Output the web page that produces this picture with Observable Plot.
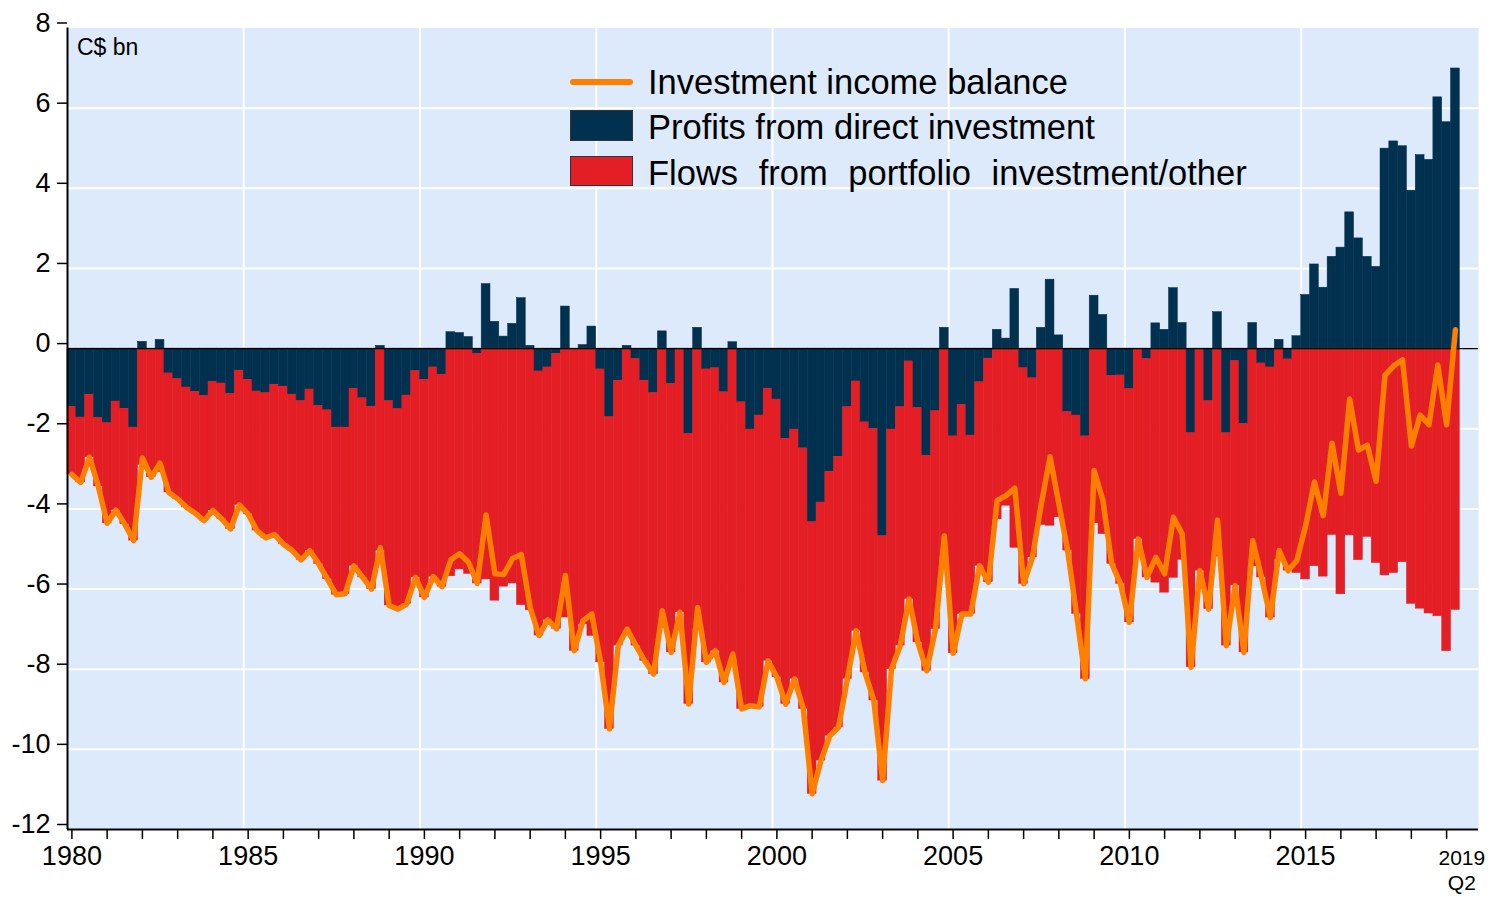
<!DOCTYPE html>
<html>
<head>
<meta charset="utf-8">
<script src="https://cdn.jsdelivr.net/npm/d3@7"></script>
<script src="https://cdn.jsdelivr.net/npm/@observablehq/plot@0.6"></script>
<style>
  html, body { margin: 0; padding: 0; background: #ffffff; }
  body { font-family: "Liberation Sans", Arial, sans-serif; }
  #wrap { position: relative; width: 1506px; height: 897px; overflow: hidden; }
  .abs { position: absolute; }
  .lt { position: absolute; font-size: 34.5px; line-height: 34px; color: #000; white-space: nowrap; }
</style>
</head>
<body>
<div id="wrap"></div>
<script>
// ---------------- DATA (quarterly, 1980 Q1 .. 2019 Q2), C$ bn ----------------
const firstYear = 1980;
const lastYear = 2019;
const nQuarters = 158;

// Profits from direct investment
const direct = [
  -1.45,-1.72,-1.15,-1.73,  -1.86,-1.32,-1.50,-1.97,   0.17,-0.03, 0.22,-0.62,  -0.76,-0.97,-1.08,-1.18,
  -0.83,-0.87,-1.13,-0.55,  -0.78,-1.07,-1.11,-0.90,  -0.95,-1.15,-1.31,-1.02,  -1.43,-1.54,-1.97,-1.97,
  -1.00,-1.24,-1.45, 0.07,  -1.31,-1.51,-1.17,-0.56,  -0.78,-0.47,-0.65, 0.41,   0.39, 0.29,-0.13, 1.61,
   0.67, 0.30, 0.62, 1.26,   0.07,-0.57,-0.47,-0.13,   1.05,-0.03, 0.09, 0.55,  -0.52,-1.71,-0.80, 0.07,
  -0.26,-0.80,-1.11, 0.43,  -0.88,-0.02,-2.13, 0.52,  -0.52,-0.49,-1.09, 0.16,  -1.34,-2.02,-1.67,-1.00,
  -1.27,-2.25,-2.02,-2.49,  -4.33,-3.84,-3.07,-2.70,  -1.46,-0.82,-1.84,-2.00,  -4.68,-2.02,-1.46,-0.32,
  -1.48,-2.67,-1.56, 0.52,  -2.19,-1.40,-2.17,-0.84,  -0.25, 0.47, 0.25, 1.49,  -0.49,-0.74, 0.52, 1.72,
   0.33,-1.58,-1.67,-2.19,   1.32, 0.84,-0.68,-0.67,  -1.01,-0.02,-0.26, 0.63,   0.47, 1.51, 0.64,-2.11,
  -0.03,-1.31, 0.91,-2.11,  -0.31,-1.88, 0.64,-0.37,  -0.47, 0.22,-0.27, 0.31,   1.34, 2.10, 1.52, 2.29,
   2.52, 3.40, 2.75, 2.29,   2.04, 4.99, 5.17, 5.05,   3.94, 4.83, 4.71, 6.27,   5.65, 6.99
];

// Flows from portfolio investment/other
const portfolio = [
  -1.69,-1.62,-1.56,-1.71,  -2.50,-2.71,-2.88,-2.82,  -2.90,-3.18,-3.08,-2.97,  -2.99,-2.99,-3.03,-3.11,
  -3.21,-3.38,-3.37,-3.35,  -3.35,-3.47,-3.61,-3.74,  -3.93,-3.89,-3.96,-4.02,  -3.94,-4.21,-4.17,-4.15,
  -4.42,-4.47,-4.55,-5.04,  -5.10,-4.99,-5.20,-5.15,  -5.43,-5.22,-5.29,-5.68,  -5.51,-5.62,-5.73,-5.76,
  -6.29,-5.94,-5.86,-6.40,  -6.53,-6.59,-6.30,-6.86,  -6.71,-7.51,-6.88,-7.17,  -7.31,-7.78,-6.61,-7.07,
  -7.15,-6.99,-7.01,-6.97,  -6.70,-6.56,-6.74,-6.98,  -7.31,-7.05,-7.24,-7.78,  -7.65,-6.89,-7.27,-6.79,
  -6.93,-6.62,-6.22,-6.50,  -6.78,-6.44,-6.59,-6.75,  -6.78,-6.22,-6.24,-6.78,  -6.10,-5.98,-5.95,-5.93,
  -5.85,-5.37,-5.44,-5.19,  -5.41,-5.22,-4.45,-4.58,  -5.58,-4.26,-3.92,-4.97,  -5.38,-4.47,-4.40,-4.42,
  -4.21,-3.46,-4.95,-6.05,  -4.36,-4.63,-4.69,-5.20,  -5.82,-4.73,-5.45,-5.84,  -6.09,-5.72,-5.27,-5.84,
  -5.51,-5.19,-5.19,-5.30,  -5.60,-5.70,-5.43,-5.34,  -6.24,-5.26,-5.27,-5.60,  -5.76,-5.43,-5.69,-4.65,
  -6.13,-4.66,-5.28,-4.70,  -5.35,-5.66,-5.60,-5.33,  -6.37,-6.49,-6.61,-6.68,  -7.55,-6.52
];

// Investment income balance
const balance = [
  -3.14,-3.34,-2.71,-3.44,  -4.36,-4.03,-4.38,-4.79,  -2.73,-3.21,-2.86,-3.59,  -3.75,-3.96,-4.11,-4.29,
  -4.04,-4.25,-4.50,-3.90,  -4.13,-4.54,-4.72,-4.64,  -4.88,-5.04,-5.27,-5.04,  -5.37,-5.75,-6.14,-6.12,
  -5.42,-5.71,-6.00,-4.97,  -6.41,-6.50,-6.37,-5.71,  -6.21,-5.69,-5.94,-5.27,  -5.12,-5.33,-5.86,-4.15,
  -5.62,-5.64,-5.24,-5.14,  -6.46,-7.16,-6.77,-6.99,  -5.66,-7.54,-6.79,-6.62,  -7.83,-9.49,-7.41,-7.00,
  -7.41,-7.79,-8.12,-6.54,  -7.58,-6.58,-8.87,-6.46,  -7.83,-7.54,-8.33,-7.62,  -8.99,-8.91,-8.94,-7.79,
  -8.20,-8.87,-8.24,-8.99, -11.11,-10.28,-9.66,-9.45, -8.24,-7.04,-8.08,-8.78, -10.78,-8.00,-7.41,-6.25,
  -7.33,-8.04,-7.00,-4.67,  -7.60,-6.62,-6.62,-5.42,  -5.83,-3.79,-3.67,-3.48,  -5.87,-5.21,-3.88,-2.70,
  -3.88,-5.04,-6.62,-8.24,  -3.04,-3.79,-5.37,-5.87,  -6.83,-4.75,-5.71,-5.21,  -5.62,-4.21,-4.63,-7.95,
  -5.54,-6.50,-4.28,-7.41,  -5.91,-7.58,-4.79,-5.71,  -6.71,-5.04,-5.54,-5.29,  -4.42,-3.33,-4.17,-2.36,
  -3.61,-1.26,-2.53,-2.41,  -3.31,-0.67,-0.43,-0.28,  -2.43,-1.66,-1.90,-0.41,  -1.90, 0.47
];

const seriesNames = ["Profits from direct investment", "Flows from portfolio investment/other"];
const lineName = "Investment income balance";
const yTicks = [-12, -10, -8, -6, -4, -2, 0, 2, 4, 6, 8];
const yGrid = [-10, -8, -6, -4, -2, 2, 4, 6];
const labelYears = [1980, 1985, 1990, 1995, 2000, 2005, 2010, 2015];
const gridYears = [1985, 1990, 1995, 2000, 2005, 2010, 2015];
const lastLabel = "2019\nQ2";

// ---------------- STYLE ----------------
const navy = "#02314F";
const red = "#E31E24";
const orange = "#FF7F00";
const bg = "#DDEAFB";

// ---------------- BUILD ROWS ----------------
const qStart = i => firstYear + i / 4;
const barRows = [];
for (let i = 0; i < nQuarters; i++) {
  barRows.push({t0: qStart(i), t1: qStart(i + 1), series: seriesNames[0], value: direct[i]});
  barRows.push({t0: qStart(i), t1: qStart(i + 1), series: seriesNames[1], value: portfolio[i]});
}
const lineRows = balance.map((v, i) => ({tm: qStart(i) + 0.125, value: v}));
const yearTicks = d3.range(firstYear, lastYear + 1).map(y => y + 0.125);

const chart = Plot.plot({
  width: 1506,
  height: 897,
  marginLeft: 67,
  marginRight: 28,
  marginTop: 27.5,
  marginBottom: 68,
  x: {domain: [1980, 2020.03], axis: null},
  y: {domain: [-12, 8], axis: null},
  color: {domain: seriesNames, range: [navy, red]},
  style: {fontFamily: "'Liberation Sans', Arial, sans-serif", background: "white", color: "black"},
  marks: [
    Plot.frame({fill: bg, stroke: null}),
    Plot.ruleY(yGrid, {stroke: "white", strokeWidth: 2}),
    Plot.ruleX(gridYears, {stroke: "white", strokeWidth: 2}),
    Plot.rectY(barRows, {x1: "t0", x2: "t1", y: "value", fill: "series", stroke: "series", strokeWidth: 0.5}),
    Plot.ruleY([0], {stroke: "black", strokeWidth: 1.2}),
    Plot.line(lineRows, {x: "tm", y: "value", stroke: orange, strokeWidth: 5.5, strokeLinejoin: "round"}),
    Plot.ruleX([1980], {stroke: "black", strokeWidth: 2}),
    Plot.ruleY([-12], {stroke: "black", strokeWidth: 2}),
    Plot.axisY(yTicks, {tickSize: 10, tickPadding: 7, fontSize: 27, tickFormat: d => String(d), dy: -5, strokeWidth: 1.5, label: null}),
    Plot.axisX(yearTicks, {
      tickSize: 10, tickPadding: 6, fontSize: 27, strokeWidth: 1.5, label: null,
      tickFormat: d => { const y = Math.floor(d); return labelYears.includes(y) ? String(y) : ""; }
    }),
    Plot.text([{x: firstYear + nQuarters / 4, label: lastLabel}], {
      x: "x", text: "label", frameAnchor: "bottom", lineAnchor: "top",
      dy: 17, dx: 2, fontSize: 21, lineHeight: 1.22, fill: "black"
    })
  ]
});

const wrap = document.getElementById("wrap");
chart.style.position = "absolute";
chart.style.left = "0px";
chart.style.top = "0px";
wrap.appendChild(chart);

function addDiv(cls, css, text) {
  const d = document.createElement("div");
  d.className = cls;
  Object.assign(d.style, css);
  if (text) d.textContent = text;
  wrap.appendChild(d);
  return d;
}
// unit label
addDiv("abs", {left: "77px", top: "36px", fontSize: "23px", lineHeight: "23px", color: "#000", whiteSpace: "nowrap"}, "C$ bn");
// legend
addDiv("abs", {left: "570px", top: "79px", width: "63px", height: "6px", background: orange, borderRadius: "3px"});
addDiv("abs", {left: "570px", top: "110px", width: "61px", height: "29px", background: navy, border: "1px solid #333"});
addDiv("abs", {left: "570px", top: "156px", width: "61px", height: "28px", background: red, border: "1px solid #333"});
addDiv("lt", {left: "648px", top: "65px"}, lineName);
addDiv("lt", {left: "648px", top: "110px"}, seriesNames[0]);
addDiv("lt", {left: "648px", top: "156px", wordSpacing: "11px"}, seriesNames[1]);
</script>
</body>
</html>
